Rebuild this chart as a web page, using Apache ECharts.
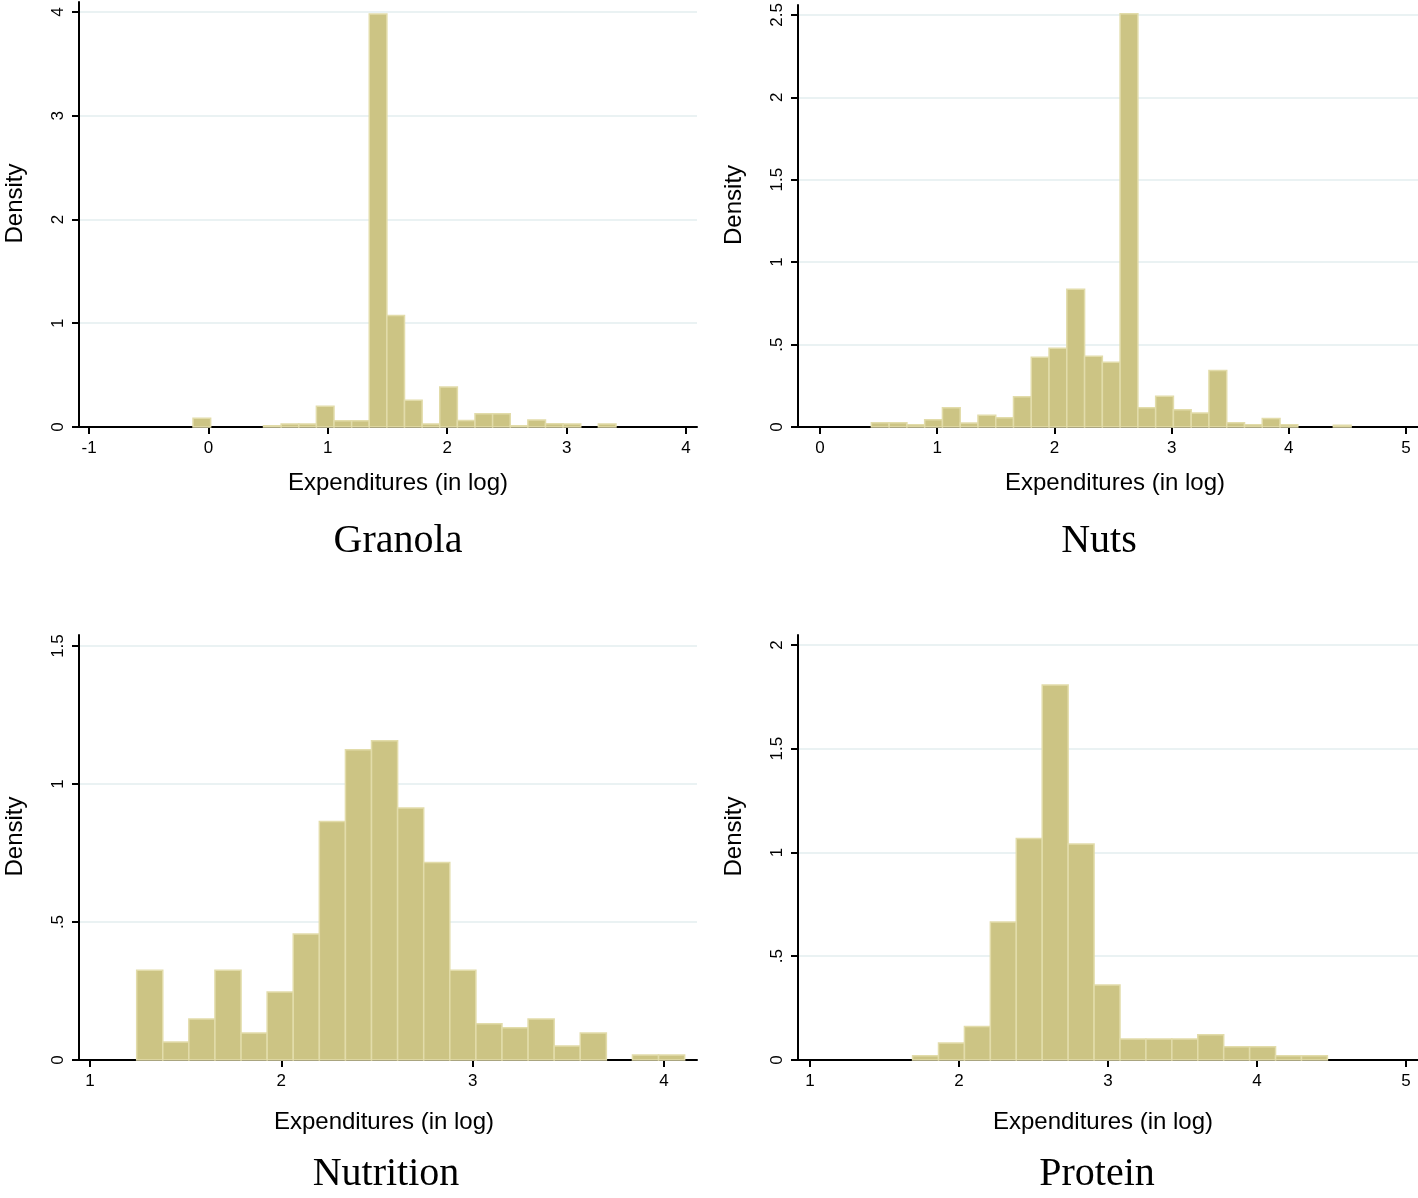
<!DOCTYPE html>
<html><head><meta charset="utf-8">
<script src="https://cdn.jsdelivr.net/npm/echarts@6/dist/echarts.min.js"></script>
<style>html,body{margin:0;padding:0;background:#fff}#c{width:1418px;height:1198px}</style>
</head><body><div id="c"></div>
<script>
// ---- data (histogram densities) ----
const panelTitles = ['Granola', 'Nuts', 'Nutrition', 'Protein'];
const xAxisTitle = 'Expenditures (in log)';
const yAxisTitle = 'Density';

const granolaBinStart = -0.129, granolaBinWidth = 0.1476;
const granolaDensity = [0.085, 0, 0, 0, 0.012, 0.03, 0.03, 0.2, 0.06, 0.06, 3.98, 1.075, 0.257, 0.03, 0.385, 0.062, 0.127, 0.127, 0.012, 0.068, 0.032, 0.03, 0, 0.03];

const nutsBinStart = 0.438, nutsBinWidth = 0.1516;
const nutsDensity = [0.026, 0.026, 0.014, 0.044, 0.117, 0.024, 0.072, 0.056, 0.183, 0.423, 0.477, 0.835, 0.429, 0.392, 2.506, 0.117, 0.187, 0.105, 0.085, 0.342, 0.026, 0.014, 0.052, 0.014, 0, 0, 0.01];

const nutritionBinStart = 1.244, nutritionBinWidth = 0.1364;
const nutritionDensity = [0.325, 0.065, 0.149, 0.325, 0.098, 0.246, 0.457, 0.864, 1.124, 1.157, 0.913, 0.716, 0.325, 0.131, 0.117, 0.149, 0.051, 0.098, 0, 0.018, 0.018];

const proteinBinStart = 1.688, proteinBinWidth = 0.174;
const proteinDensity = [0.021, 0.082, 0.161, 0.665, 1.067, 1.807, 1.041, 0.361, 0.101, 0.101, 0.101, 0.122, 0.064, 0.064, 0.021, 0.021];

const granolaXTicks = [-1, 0, 1, 2, 3, 4];
const nutsXTicks = [0, 1, 2, 3, 4, 5];
const nutritionXTicks = [1, 2, 3, 4];
const proteinXTicks = [1, 2, 3, 4, 5];
const granolaYTicks = [0, 1, 2, 3, 4];
const nutsYTicks = [0, 0.5, 1, 1.5, 2, 2.5];
const nutritionYTicks = [0, 0.5, 1, 1.5];
const proteinYTicks = [0, 0.5, 1, 1.5, 2];

// ---- build ----
function bins(start, width, dens) {
  const out = [];
  dens.forEach((d, i) => { out.push([start + i * width, start + (i + 1) * width, d]); });
  return out;
}
const panels = [
  { bins: bins(granolaBinStart, granolaBinWidth, granolaDensity), xt: granolaXTicks, yt: granolaYTicks,
    xr: [-1.084, 4.092], yr: [0, 4.096], grid: { left: 79, top: 2, width: 618, height: 425 },
    title: [398, 541], xpad: [0, 0, 0, 20], ngap: 44 },
  { bins: bins(nutsBinStart, nutsBinWidth, nutsDensity), xt: nutsXTicks, yt: nutsYTicks,
    xr: [-0.188, 5.102], yr: [0, 2.56], grid: { left: 798, top: 2, width: 620, height: 425 },
    title: [1099, 541], xpad: [0, 0, 0, 14], ngap: 44 },
  { bins: bins(nutritionBinStart, nutritionBinWidth, nutritionDensity), xt: nutritionXTicks, yt: nutritionYTicks,
    xr: [0.9425, 4.173], yr: [0, 1.54], grid: { left: 79, top: 635, width: 618, height: 425 },
    title: [386, 1174], xpad: [0, 8, 0, 0], ngap: 50 },
  { bins: bins(proteinBinStart, proteinBinWidth, proteinDensity), xt: proteinXTicks, yt: proteinYTicks,
    xr: [0.919, 5.08], yr: [0, 2.048], grid: { left: 798, top: 635, width: 620, height: 425 },
    title: [1097, 1174], xpad: [0, 10, 0, 0], ngap: 50 }
];

const fmt = v => String(v).replace(/^0\./, '.').replace(/^-0\./, '-.');
const sans = 'Liberation Sans, Arial, Helvetica, sans-serif';
const axisLine = { show: true, onZero: false, lineStyle: { color: '#000', width: 2 } };

const option = {
  animation: false,
  backgroundColor: '#fff',
  grid: panels.map(p => Object.assign({ containLabel: false }, p.grid)),
  xAxis: panels.map((p, i) => ({
    type: 'value', gridIndex: i, min: p.xr[0], max: p.xr[1],
    axisLine: axisLine,
    axisTick: { show: true, length: 7, lineStyle: { color: '#000', width: 2 }, customValues: p.xt },
    axisLabel: { customValues: p.xt, formatter: fmt, margin: 13, color: '#000', fontSize: 17, fontFamily: sans },
    splitLine: { show: false },
    name: xAxisTitle, nameLocation: 'middle', nameGap: p.ngap,
    nameTextStyle: { color: '#000', fontSize: 24, fontFamily: sans, padding: p.xpad }
  })),
  yAxis: panels.map((p, i) => ({
    type: 'value', gridIndex: i, min: p.yr[0], max: p.yr[1],
    axisLine: axisLine,
    axisTick: { show: true, length: 7, lineStyle: { color: '#000', width: 2 }, customValues: p.yt },
    axisLabel: { customValues: p.yt, formatter: fmt, rotate: 90, margin: 12, color: '#000', fontSize: 17, fontFamily: sans },
    splitLine: { show: true, lineStyle: { color: '#eaf2f3', width: 2 } },
    name: yAxisTitle, nameLocation: 'middle', nameGap: 52, nameRotate: 90,
    nameTextStyle: { color: '#000', fontSize: 24, fontFamily: sans, padding: [0, 0, 0, 22] }
  })),
  series: panels.map((p, i) => ({
    type: 'custom', xAxisIndex: i, yAxisIndex: i,
    data: p.bins.filter(b => b[2] > 0),
    encode: { x: [0, 1], y: 2 },
    renderItem: function (params, api) {
      const a = api.coord([api.value(0), 0]);
      const b = api.coord([api.value(1), api.value(2)]);
      return {
        type: 'rect',
        shape: { x: a[0], y: b[1], width: b[0] - a[0], height: a[1] - b[1] },
        style: { fill: '#ccc484', stroke: '#e2dcaa', lineWidth: 1.5 }
      };
    }
  })),
  graphic: panels.map((p, i) => ({
    type: 'text', x: p.title[0], y: p.title[1],
    style: { text: panelTitles[i], fill: '#000', font: '40px "Liberation Serif", "Times New Roman", serif',
             textAlign: 'center', textVerticalAlign: 'middle' }
  }))
};
const chart = echarts.init(document.getElementById('c'), null, { renderer: 'canvas' });
chart.setOption(option);
</script></body></html>
